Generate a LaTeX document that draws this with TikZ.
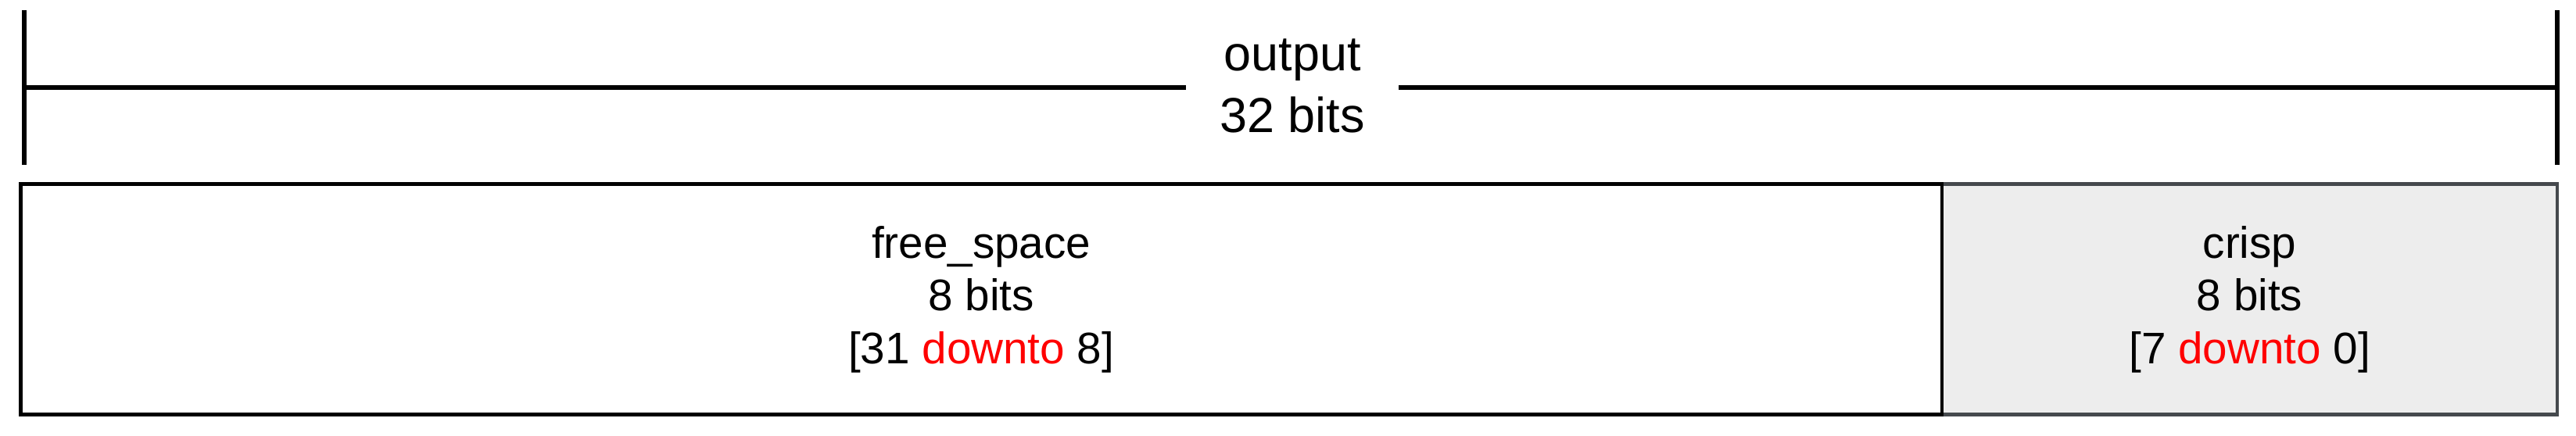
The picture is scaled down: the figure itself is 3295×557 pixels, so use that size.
\documentclass[tikz,border=0pt]{standalone}
\usepackage{fontspec}
\setmainfont{Liberation Sans}
\usepackage{xcolor}
\usetikzlibrary{positioning}
\definecolor{crispfill}{HTML}{EDEDED}
\definecolor{crispline}{HTML}{45494D}
\definecolor{downred}{HTML}{FF0000}
\newcommand{\dto}{\textcolor{downred}{downto}}

\begin{document}
\begin{tikzpicture}[x=0.01cm, y=-0.01cm,
  field/.style={draw, line width=1.25pt, outer sep=0pt, minimum height=2.95cm,
    align=center, font=\fontsize{16.1}{19.2}\selectfont},
  ruler/.style={line width=1.6pt}]
\useasboundingbox (0,0) rectangle (3295,557);

\coordinate (barL) at (31,112);
\coordinate (barR) at (3271,112);
\foreach \b in {barL, barR}
    \draw[ruler] (\b) ++(0,-99) -- ++(0,198);
\draw[ruler] (barL) -- (barR);
\node[fill=white, inner xsep=0.43cm, inner ysep=0pt, align=center,
  font=\fontsize{17.9}{22.5}\selectfont] (total) at (1653,110) {output\\32 bits};

\node[field, draw=crispline, fill=crispfill, minimum width=7.87cm] (crisp) at (2877.5,383)
  {crisp\\8 bits\\{[}7 \dto{} 0{]}};
\node[field, fill=white, minimum width=24.56cm, left=0pt of crisp] (free)
  {free\_space\\8 bits\\{[}31 \dto{} 8{]}};
%
\end{tikzpicture}
\end{document}
